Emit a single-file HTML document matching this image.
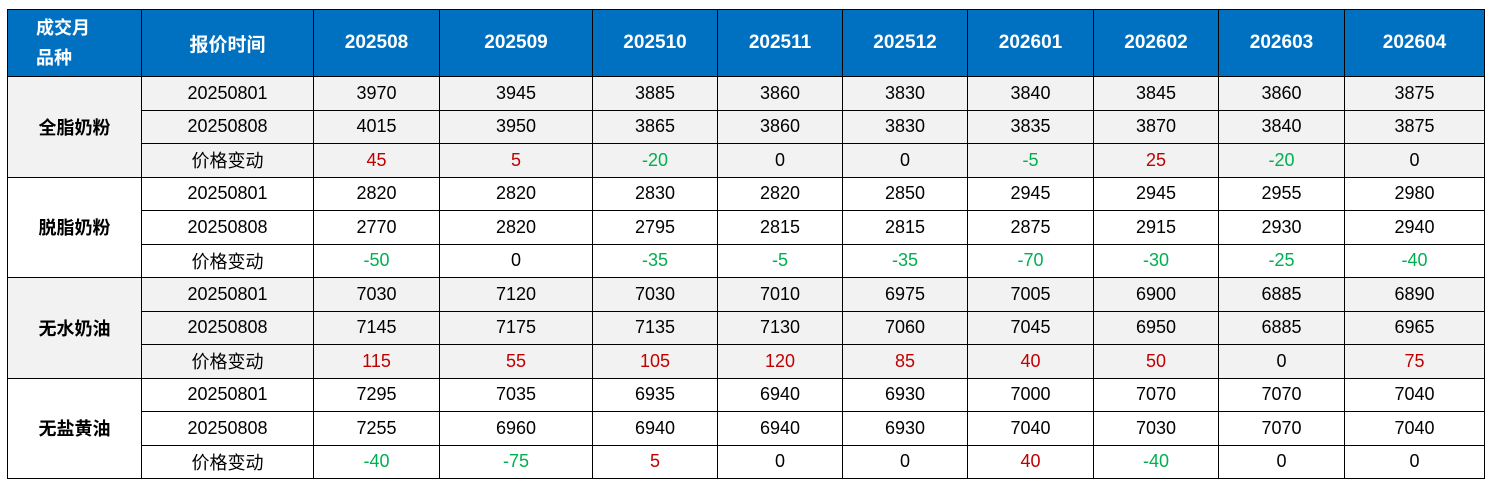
<!DOCTYPE html>
<html><head><meta charset="utf-8"><style>
body{margin:0;background:#fff;width:1491px;height:484px;overflow:hidden;font-family:"Liberation Sans","Noto Sans CJK SC",sans-serif}
table{position:absolute;left:7px;top:9px;border-collapse:collapse;table-layout:fixed;width:1477px}
tr{height:33.5px}
tr.h{height:67px}
td,th{border:1.5px solid #000;text-align:center;padding:0;font-size:18px;color:#000;white-space:nowrap;overflow:hidden}
th{background:#0070c0;color:#fff;font-weight:bold;font-size:19px}
th.f{text-align:left;padding-left:28px;line-height:30px;font-size:18px}
.g td{background:#f2f2f2}
.n{font-weight:bold}
.r{color:#c00000}.gr{color:#00b050}
</style></head><body>
<table>
<colgroup><col style="width:134px"><col style="width:172px"><col style="width:126px"><col style="width:153px"><col style="width:125px"><col style="width:125px"><col style="width:125px"><col style="width:126px"><col style="width:125px"><col style="width:126px"><col style="width:140px"></colgroup>
<tr class="h"><th class="f">成交月<br>品种</th><th>报价时间</th><th>202508</th><th>202509</th><th>202510</th><th>202511</th><th>202512</th><th>202601</th><th>202602</th><th>202603</th><th>202604</th></tr>
<tr class="g"><td rowspan="3" class="n">全脂奶粉</td><td>20250801</td><td>3970</td><td>3945</td><td>3885</td><td>3860</td><td>3830</td><td>3840</td><td>3845</td><td>3860</td><td>3875</td></tr>
<tr class="g"><td>20250808</td><td>4015</td><td>3950</td><td>3865</td><td>3860</td><td>3830</td><td>3835</td><td>3870</td><td>3840</td><td>3875</td></tr>
<tr class="g"><td>价格变动</td><td class="r">45</td><td class="r">5</td><td class="gr">-20</td><td>0</td><td>0</td><td class="gr">-5</td><td class="r">25</td><td class="gr">-20</td><td>0</td></tr>
<tr><td rowspan="3" class="n">脱脂奶粉</td><td>20250801</td><td>2820</td><td>2820</td><td>2830</td><td>2820</td><td>2850</td><td>2945</td><td>2945</td><td>2955</td><td>2980</td></tr>
<tr><td>20250808</td><td>2770</td><td>2820</td><td>2795</td><td>2815</td><td>2815</td><td>2875</td><td>2915</td><td>2930</td><td>2940</td></tr>
<tr><td>价格变动</td><td class="gr">-50</td><td>0</td><td class="gr">-35</td><td class="gr">-5</td><td class="gr">-35</td><td class="gr">-70</td><td class="gr">-30</td><td class="gr">-25</td><td class="gr">-40</td></tr>
<tr class="g"><td rowspan="3" class="n">无水奶油</td><td>20250801</td><td>7030</td><td>7120</td><td>7030</td><td>7010</td><td>6975</td><td>7005</td><td>6900</td><td>6885</td><td>6890</td></tr>
<tr class="g"><td>20250808</td><td>7145</td><td>7175</td><td>7135</td><td>7130</td><td>7060</td><td>7045</td><td>6950</td><td>6885</td><td>6965</td></tr>
<tr class="g"><td>价格变动</td><td class="r">115</td><td class="r">55</td><td class="r">105</td><td class="r">120</td><td class="r">85</td><td class="r">40</td><td class="r">50</td><td>0</td><td class="r">75</td></tr>
<tr><td rowspan="3" class="n">无盐黄油</td><td>20250801</td><td>7295</td><td>7035</td><td>6935</td><td>6940</td><td>6930</td><td>7000</td><td>7070</td><td>7070</td><td>7040</td></tr>
<tr><td>20250808</td><td>7255</td><td>6960</td><td>6940</td><td>6940</td><td>6930</td><td>7040</td><td>7030</td><td>7070</td><td>7040</td></tr>
<tr><td>价格变动</td><td class="gr">-40</td><td class="gr">-75</td><td class="r">5</td><td>0</td><td>0</td><td class="r">40</td><td class="gr">-40</td><td>0</td><td>0</td></tr>
</table>
</body></html>
